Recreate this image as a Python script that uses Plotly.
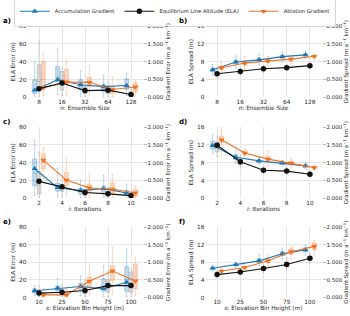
import plotly.graph_objects as go

# ---------------- data ----------------
n_labels = ["8", "16", "32", "64", "128"]
i_labels = ["2", "4", "6", "8", "10"]
s_labels = ["10", "25", "50", "75", "100"]

# line values (ELA in m, gradients in m a-1 km-1)
a_ela = [9.7, 16.0, 7.5, 8.0, 3.2]
a_acc = [0.20, 0.49, 0.35, 0.30, 0.33]
a_abl = [0.27, 0.43, 0.42, 0.22, 0.29]
b_ela = [5.3, 5.8, 6.4, 6.65, 7.1]
b_acc = [0.77, 0.99, 1.05, 1.14, 1.19]
b_abl = [0.83, 0.96, 1.02, 1.07, 1.15]
c_ela = [19.0, 13.0, 6.5, 5.0, 3.0]
c_acc = [0.83, 0.30, 0.22, 0.27, 0.15]
c_abl = [1.07, 0.51, 0.29, 0.26, 0.15]
d_ela = [11.9, 8.2, 6.3, 6.1, 5.4]
d_acc = [1.48, 1.15, 1.05, 0.99, 0.91]
d_abl = [1.64, 1.27, 1.10, 0.99, 0.86]
e_ela = [5.0, 6.0, 8.0, 13.5, 13.5]
e_acc = [0.19, 0.26, 0.31, 0.25, 0.43]
e_abl = [0.075, 0.075, 0.46, 0.75, 0.47]
f_ela = [5.2, 5.8, 6.6, 7.5, 8.9]
f_acc = [0.83, 0.93, 1.04, 1.24, 1.35]
f_abl = [0.75, 0.85, 1.04, 1.30, 1.45]

# box stats per category: [lower whisker, q1, median, q3, upper whisker]
a_ela_box = [[1, 8.5, 18, 36.5, 63], [2, 8, 20, 29, 32], [0.5, 4, 8, 12, 18], [0.5, 4, 8, 13, 17], [0.2, 1.5, 3, 6, 9]]
a_acc_box = [[0.0, 0.11, 0.20, 0.49, 1.00], [0.08, 0.45, 0.55, 0.87, 1.38], [0.0, 0.22, 0.32, 0.49, 0.74], [0.0, 0.16, 0.25, 0.36, 0.62], [0.05, 0.22, 0.35, 0.52, 0.68]]
a_abl_box = [[0.05, 0.23, 0.50, 1.00, 1.22], [0.05, 0.35, 0.60, 0.78, 1.05], [0.05, 0.30, 0.45, 0.56, 0.87], [0.02, 0.11, 0.20, 0.30, 0.56], [0.02, 0.15, 0.25, 0.40, 0.46]]
b_ela_box = [[4.2, 4.8, 5.2, 5.6, 6.2], [5.0, 5.5, 5.8, 6.1, 6.6], [5.6, 6.1, 6.4, 6.7, 7.2], [6.0, 6.4, 6.6, 6.9, 7.3], [6.5, 6.9, 7.1, 7.3, 7.7]]
b_acc_box = [[0.62, 0.72, 0.76, 0.82, 0.92], [0.82, 0.94, 0.98, 1.04, 1.16], [0.90, 1.00, 1.05, 1.10, 1.20], [1.00, 1.09, 1.13, 1.19, 1.28], [1.08, 1.15, 1.19, 1.23, 1.30]]
b_abl_box = [[0.70, 0.78, 0.83, 0.88, 0.98], [0.78, 0.90, 0.96, 1.02, 1.15], [0.88, 0.97, 1.02, 1.07, 1.15], [0.95, 1.03, 1.07, 1.11, 1.18], [1.06, 1.12, 1.15, 1.18, 1.22]]
c_ela_box = [[1, 5, 15, 30, 52], [1, 8, 11, 15, 22], [0.5, 3, 6, 10, 14], [0.3, 2.5, 5, 8, 12], [0.2, 1.5, 3, 6, 9]]
c_acc_box = [[0.08, 0.35, 0.70, 1.10, 1.63], [0.03, 0.20, 0.30, 0.43, 0.85], [0.02, 0.12, 0.20, 0.28, 0.50], [0.03, 0.17, 0.27, 0.35, 0.65], [0.01, 0.08, 0.14, 0.22, 0.40]]
c_abl_box = [[0.55, 0.82, 1.05, 1.25, 1.42], [0.05, 0.35, 0.50, 0.72, 1.13], [0.03, 0.20, 0.30, 0.40, 0.68], [0.03, 0.15, 0.27, 0.43, 0.68], [0.01, 0.05, 0.15, 0.25, 0.33]]
d_ela_box = [[9.4, 10.4, 11.5, 12.6, 13.8], [6.8, 7.5, 8.1, 8.8, 9.6], [5.6, 6.0, 6.3, 6.6, 7.0], [5.4, 5.8, 6.1, 6.4, 6.8], [4.8, 5.1, 5.4, 5.7, 6.0]]
d_acc_box = [[1.25, 1.38, 1.47, 1.60, 1.80], [0.98, 1.08, 1.14, 1.22, 1.33], [0.94, 1.00, 1.05, 1.09, 1.15], [0.90, 0.96, 0.99, 1.02, 1.06], [0.82, 0.87, 0.91, 0.95, 1.00]]
d_abl_box = [[1.20, 1.56, 1.64, 1.75, 2.10], [1.15, 1.22, 1.27, 1.32, 1.38], [0.90, 1.02, 1.10, 1.18, 1.33], [0.88, 0.95, 0.99, 1.04, 1.12], [0.80, 0.84, 0.86, 0.89, 0.92]]
e_ela_box = [[1, 3, 5, 8, 13], [1, 3.5, 6, 9, 14], [1, 4, 8, 13, 20], [1, 6, 13, 20, 30], [1, 6, 15, 29, 33]]
e_acc_box = [[0.05, 0.13, 0.19, 0.25, 0.35], [0.05, 0.18, 0.26, 0.33, 0.53], [0.05, 0.22, 0.32, 0.40, 0.62], [0.03, 0.18, 0.30, 0.53, 0.90], [0.03, 0.18, 0.50, 0.88, 1.38]]
e_abl_box = [[0.0, 0.03, 0.07, 0.13, 0.25], [0.0, 0.03, 0.07, 0.13, 0.25], [0.08, 0.30, 0.45, 0.58, 0.95], [0.10, 0.48, 0.75, 0.90, 1.43], [0.05, 0.25, 0.60, 0.95, 1.13]]
f_ela_box = [[4.5, 4.9, 5.2, 5.5, 5.9], [5.1, 5.5, 5.8, 6.1, 6.5], [5.6, 6.2, 6.6, 7.0, 7.6], [6.3, 7.0, 7.5, 8.1, 8.9], [7.8, 8.5, 8.9, 9.3, 10.0]]
f_acc_box = [[0.76, 0.80, 0.83, 0.86, 0.90], [0.85, 0.90, 0.93, 0.96, 1.00], [0.90, 1.00, 1.04, 1.10, 1.22], [1.10, 1.19, 1.24, 1.30, 1.40], [1.20, 1.30, 1.35, 1.42, 1.48]]
f_abl_box = [[0.68, 0.72, 0.75, 0.78, 0.82], [0.78, 0.82, 0.85, 0.88, 0.93], [0.90, 0.98, 1.04, 1.10, 1.22], [1.10, 1.22, 1.30, 1.38, 1.45], [1.20, 1.35, 1.45, 1.55, 1.62]]

# ---------------- styling ----------------
FONT = "DejaVu Sans"
TXT = "#262626"
GRID = "#e6e6e6"
BLUE = "#1f77b4"
ORANGE = "#f0711f"
BLACK = "#111111"
OFF = 0.19
BW = 0.17

panels = [
    ("a)", n_labels, "error", a_ela, a_acc, a_abl, a_ela_box, a_acc_box, a_abl_box, "<i>n</i>: Ensemble Size"),
    ("b)", n_labels, "spread", b_ela, b_acc, b_abl, b_ela_box, b_acc_box, b_abl_box, "<i>n</i>: Ensemble Size"),
    ("c)", i_labels, "error", c_ela, c_acc, c_abl, c_ela_box, c_acc_box, c_abl_box, "<i>i</i>: Iterations"),
    ("d)", i_labels, "spread", d_ela, d_acc, d_abl, d_ela_box, d_acc_box, d_abl_box, "<i>i</i>: Iterations"),
    ("e)", s_labels, "error", e_ela, e_acc, e_abl, e_ela_box, e_acc_box, e_abl_box, "<i>s</i>: Elevation Bin Height (m)"),
    ("f)", s_labels, "spread", f_ela, f_acc, f_abl, f_ela_box, f_acc_box, f_abl_box, "<i>s</i>: Elevation Bin Height (m)"),
]

W, H = 350, 316
XDOM = [[27.5 / W, 142.5 / W], [205.5 / W, 321.5 / W]]
ROWS_PX = [(26, 97.3), (127, 198.3), (227, 297.5)]
YDOM = [[1 - b / H, 1 - t / H] for (t, b) in ROWS_PX]
LABEL_X = [1 / W, 177 / W]

fig = go.Figure()
layout = dict(
    width=W, height=H, autosize=False, margin=dict(l=0, r=0, t=0, b=0, pad=0, autoexpand=False),
    paper_bgcolor="white", plot_bgcolor="white",
    font=dict(family=FONT, size=6, color=TXT),
    showlegend=True, boxmode="overlay",
    legend=dict(orientation="h", x=0.5, xanchor="center", y=1 + 4 / H, yanchor="top",
                bordercolor="#cccccc", borderwidth=0.8, font=dict(size=5.2),
                itemwidth=30, tracegroupgap=0, bgcolor="rgba(255,255,255,0.9)"),
    annotations=[],
)


def rgba(hexc, a):
    h = hexc.lstrip("#")
    r, g, b = int(h[0:2], 16), int(h[2:4], 16), int(h[4:6], 16)
    return f"rgba({r},{g},{b},{a})"


for k, (lab, cats, kind, ela, acc, abl, ela_box, acc_box, abl_box, xtitle) in enumerate(panels):
    row, col = k // 2, k % 2
    xa = f"x{k + 1}"
    yg = f"y{2 * k + 1}"   # gradient axis (right, base)
    ye = f"y{2 * k + 2}"   # ELA axis (left, overlay)
    idx = list(range(len(cats)))

    # boxes
    for boxes, off, color, yax in [(acc_box, -OFF, BLUE, yg), (ela_box, 0.0, "#808080", ye), (abl_box, OFF, ORANGE, yg)]:
        fig.add_trace(go.Box(
            x=[i + off for i in idx],
            lowerfence=[b[0] for b in boxes], q1=[b[1] for b in boxes],
            median=[b[2] for b in boxes], q3=[b[3] for b in boxes],
            upperfence=[b[4] for b in boxes],
            width=BW, whiskerwidth=0.5,
            fillcolor=rgba(color, 0.28), line=dict(color=rgba(color, 0.35), width=0.8),
            boxpoints=False, showlegend=False, hoverinfo="skip",
            xaxis=xa, yaxis=yax,
        ))
    # lines
    first = k == 0
    fig.add_trace(go.Scatter(x=[i - OFF for i in idx], y=acc, mode="lines+markers",
                             name="Accumulation Gradient", legendrank=1,
                             line=dict(color=BLUE, width=1.1),
                             marker=dict(symbol="triangle-up", size=5.5, color=BLUE),
                             showlegend=first, xaxis=xa, yaxis=yg))
    fig.add_trace(go.Scatter(x=[i + OFF for i in idx], y=abl, mode="lines+markers",
                             name="Ablation Gradient", legendrank=3,
                             line=dict(color=ORANGE, width=1.1),
                             marker=dict(symbol="triangle-down", size=5.5, color=ORANGE),
                             showlegend=first, xaxis=xa, yaxis=yg))
    fig.add_trace(go.Scatter(x=idx, y=ela, mode="lines+markers",
                             name="Equilibrium Line Altitude (ELA)", legendrank=2,
                             line=dict(color=BLACK, width=1.1),
                             marker=dict(symbol="circle", size=5.5, color=BLACK),
                             showlegend=first, xaxis=xa, yaxis=ye))

    if kind == "error":
        erange, etick = [0, 80], [0, 20, 40, 60, 80]
        etitle = "ELA Error (m)"
        gtitle = "Gradient Error (m a<sup>−1</sup> km<sup>−1</sup>)"
    else:
        erange, etick = [0, 16], [0, 4, 8, 12, 16]
        etitle = "ELA Spread (m)"
        gtitle = "Gradient Spread (m a<sup>−1</sup> km<sup>−1</sup>)"

    layout[f"xaxis{k + 1}"] = dict(
        domain=XDOM[col], anchor=yg, range=[-0.5, len(cats) - 0.5], automargin=False,
        tickmode="array", tickvals=idx, ticktext=cats,
        showgrid=True, gridcolor=GRID, gridwidth=0.8, zeroline=False, showline=False,
        ticks="", tickfont=dict(size=5.8),
        title=dict(text=xtitle, standoff=1, font=dict(size=5.8)),
    )
    layout[f"yaxis{2 * k + 1}"] = dict(
        domain=YDOM[row], anchor=xa, side="right", range=[0, 2], automargin=False,
        tickmode="array", tickvals=[0, 0.5, 1.0, 1.5, 2.0], tickformat=".3f",
        showgrid=False, zeroline=False, showline=False,
        ticks="outside", ticklen=3, tickcolor="#bbbbbb", tickwidth=0.8,
        tickfont=dict(size=5.5),
        title=dict(text=gtitle, standoff=2, font=dict(size=5.5)),
    )
    layout[f"yaxis{2 * k + 2}"] = dict(
        overlaying=yg, anchor=xa, side="left", range=erange, automargin=False,
        tickmode="array", tickvals=etick,
        showgrid=True, gridcolor=GRID, gridwidth=0.8, zeroline=False, showline=False,
        ticks="", tickfont=dict(size=5.8),
        title=dict(text=etitle, standoff=3, font=dict(size=5.8)),
    )
    layout["annotations"].append(dict(
        text=f"<b>{lab}</b>", x=LABEL_X[col], y=1 - (ROWS_PX[row][0] - 5) / H,
        xref="paper", yref="paper", xanchor="left", yanchor="middle",
        showarrow=False, font=dict(size=7, color="#000000"),
    ))

fig.update_layout(**layout)
fig.write_html("out.html", config={"displayModeBar": False},
               post_script="document.body.style.margin='0px';")
